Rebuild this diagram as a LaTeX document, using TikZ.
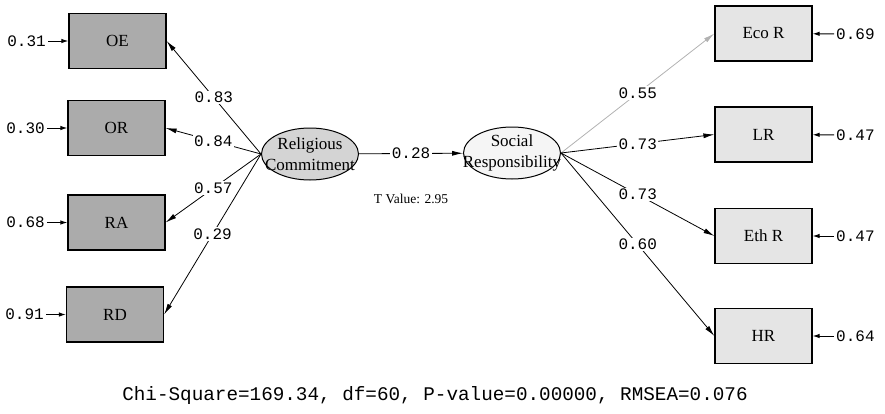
\documentclass[tikz,border=0pt]{standalone}
\usepackage{fontspec}
\setmainfont{Liberation Serif}
\setmonofont{Liberation Mono}
\usetikzlibrary{arrows.meta,shapes.geometric}

\begin{document}
\begin{tikzpicture}[x=1pt, y=-1pt, >={Latex[length=11pt,width=5pt]},
	indL/.style={draw, line width=1.2pt, fill=black!33, minimum width=97pt, minimum height=55pt, inner sep=0pt, font=\fontsize{17}{19}\selectfont},
	indR/.style={indL, fill=black!10},
	latent/.style={draw, ellipse, line width=1pt, minimum width=97pt, minimum height=52pt, inner sep=0pt},
	lbl/.style={align=center, inner sep=0pt, font=\fontsize{17}{21}\selectfont},
	coef/.style={fill=white, text=black, inner sep=1.5pt, font=\ttfamily\fontsize{16}{18}\selectfont},
	err/.style={inner sep=2pt, font=\ttfamily\fontsize{16}{18}\selectfont},
	load/.style={->, line width=0.8pt},
	errload/.style={-{Latex[length=7pt,width=4.5pt]}, line width=1pt}]
	\useasboundingbox (0,0) rectangle (885,413);
	% indicators of religious commitment
	\node[indL] (OE) at (117.5,41) {OE};
	\node[indL] (OR) at (116.5,128) {OR};
	\node[indL] (RA) at (116.5,222.5) {RA};
	\node[indL] (RD) at (115,314.5) {RD};
	% latent variables
	\node[latent, fill=black!17] (RC) at (310,154) {};
	\node[lbl] (RCtxt) at (RC) {Religious\\Commitment};
	\node[latent, fill=black!4] (SR) at (512,153) {};
	\node[lbl] (SRtxt) at (SR) {Social\\Responsibility};
	% indicators of social responsibility
	\node[indR] (EcoR) at (763.5,33.5) {Eco R};
	\node[indR] (LR) at (763.5,134.5) {LR};
	\node[indR] (EthR) at (763.5,236) {Eth R};
	\node[indR] (HR) at (763.5,336) {HR};
	% error variances
	\node[err, anchor=east] (eOE) at (48,41) {0.31};
	\node[err, anchor=east] (eOR) at (47,128) {0.30};
	\node[err, anchor=east] (eRA) at (47,222.5) {0.68};
	\node[err, anchor=east] (eRD) at (46,314.5) {0.91};
	\node[err, anchor=west] (eEcoR) at (834,34) {0.69};
	\node[err, anchor=west] (eLR) at (834,135) {0.47};
	\node[err, anchor=west] (eEthR) at (834,236) {0.47};
	\node[err, anchor=west] (eHR) at (834,336) {0.64};
	\foreach \v in {OE,OR,RA,RD,EcoR,LR,EthR,HR}
		\draw[errload] (e\v) -- (\v);
	% loadings
	\draw[load] (RC.west) -- (OE.east) node[coef, pos=0.5] {0.83};
	\draw[load] (RC.west) -- (OR.east) node[coef, pos=0.5] {0.84};
	\draw[load] (RC.west) -- (RA.east) node[coef, pos=0.5] {0.57};
	\draw[load] (RC.west) -- (RD.east) node[coef, pos=0.5] {0.29};
	\draw[load, black!30] (SR.east) -- (EcoR.west) node[coef, pos=0.5] {0.55};
	\draw[load] (SR.east) -- (LR.west) node[coef, pos=0.5] {0.73};
	\draw[load] (SR.east) -- (EthR.west) node[coef, pos=0.5] {0.73};
	\draw[load] (SR.east) -- (HR.west) node[coef, pos=0.5] {0.60};
	% structural path
	\draw[load] (RC) -- (SR) node[coef, pos=0.5] {0.28};
	\node[font=\fontsize{13.5}{15}\selectfont] (tval) at (411,199) {T Value: 2.95};
	\node[font=\ttfamily\fontsize{19.3}{21}\selectfont] (fit) at (435,396) {Chi-Square=169.34, df=60, P-value=0.00000, RMSEA=0.076};
\end{tikzpicture}
\end{document}
